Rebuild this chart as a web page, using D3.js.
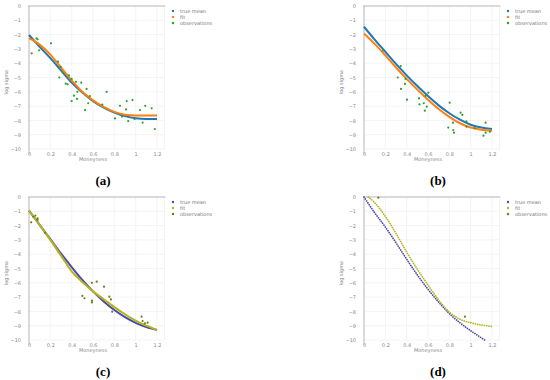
<!DOCTYPE html>
<html>
<head>
<meta charset="utf-8">
<script src="https://cdn.jsdelivr.net/npm/d3@7"></script>
<style>
  body { margin: 0; background: #fff; }
  text { font-family: "DejaVu Sans", sans-serif; }
</style>
</head>
<body>
<svg id="chart" width="550" height="380"></svg>
<script>
var gridX = [0, 0.1, 0.2, 0.3, 0.4, 0.5, 0.6, 0.7, 0.8, 0.9, 1.0, 1.1, 1.2]
var xTicks = [0, 0.2, 0.4, 0.6, 0.8, 1, 1.2]
var yTicks = [0, -1, -2, -3, -4, -5, -6, -7, -8, -9, -10]
var legendLabels = ["true mean", "fit", "observations"]

// panel (a)
var meanA = [-2.03, -2.85, -3.65, -4.5, -5.35, -6.05, -6.65, -7.1, -7.45, -7.7, -7.85, -7.9, -7.9]
var fitA = [-2.25, -2.7, -3.4, -4.3, -5.2, -6.0, -6.6, -7.05, -7.4, -7.6, -7.65, -7.65, -7.65]
var obsA = [[0.025,-3.31],[0.07,-2.27],[0.08,-2.33],[0.095,-3.1],[0.206,-2.61],[0.272,-3.89],[0.297,-4.26],
  [0.284,-5.0],[0.316,-4.65],[0.344,-5.43],[0.375,-4.85],[0.362,-5.48],[0.40,-5.1],[0.40,-6.65],[0.422,-6.27],
  [0.44,-5.3],[0.45,-6.5],[0.49,-5.36],[0.453,-6.0],[0.525,-7.28],[0.54,-5.8],[0.57,-6.3],[0.555,-6.8],
  [0.687,-6.9],[0.728,-6.0],[0.806,-7.86],[0.853,-6.98],[0.872,-7.73],[0.916,-6.65],[0.91,-7.23],[0.93,-8.05],
  [0.97,-6.58],[0.99,-7.9],[1.04,-7.28],[1.065,-8.15],[1.09,-6.98],[1.15,-7.15],[1.18,-8.6]]

// panel (b)
var meanB = [-1.45, -2.35, -3.2, -4.05, -4.85, -5.6, -6.3, -6.95, -7.5, -7.95, -8.3, -8.5, -8.6]
var fitB = [-1.92, -2.65, -3.45, -4.3, -5.1, -5.85, -6.55, -7.2, -7.75, -8.2, -8.5, -8.65, -8.72]
var obsB = [[0.18,-3.12],[0.344,-4.2],[0.316,-5.0],[0.347,-5.8],[0.39,-5.1],[0.403,-6.55],[0.384,-5.45],
  [0.516,-6.46],[0.52,-6.88],[0.56,-6.8],[0.57,-7.32],[0.588,-7.04],[0.578,-6.27],[0.603,-6.06],[0.803,-6.76],
  [0.79,-8.5],[0.834,-8.16],[0.837,-8.67],[0.844,-8.86],[0.906,-7.46],[0.922,-7.62],[0.96,-8.07],[0.962,-8.44],
  [1.04,-8.55],[1.12,-9.07],[1.14,-8.16],[1.14,-8.86],[1.18,-8.79]]

// panel (c)
var meanC = [-0.95, -1.95, -2.95, -3.95, -4.9, -5.8, -6.6, -7.3, -7.9, -8.4, -8.8, -9.1, -9.3]
var fitC = [-0.95, -1.95, -3.0, -4.1, -5.2, -5.95, -6.6, -7.15, -7.7, -8.2, -8.65, -9.0, -9.3]
var obsC = [[0.02,-1.77],[0.04,-1.38],[0.06,-1.3],[0.08,-1.5],[0.08,-1.6],[0.15,-2.5],[0.5,-6.92],[0.52,-7.08],
  [0.59,-7.25],[0.59,-7.37],[0.59,-6.0],[0.635,-5.92],[0.703,-6.27],[0.753,-6.97],[0.768,-7.16],[0.78,-8.02],
  [1.056,-8.37],[1.065,-8.67],[1.087,-8.83],[1.112,-8.79]]

// panel (d)
var meanDX = [0, 0.1, 0.2, 0.3, 0.4, 0.5, 0.6, 0.7, 0.8, 0.9, 1.0, 1.1, 1.13]
var meanD = [0, -1.1, -2.1, -3.2, -4.35, -5.45, -6.45, -7.35, -8.15, -8.8, -9.35, -9.85, -10]
var fitDX = [0.04, 0.1, 0.2, 0.3, 0.4, 0.5, 0.6, 0.7, 0.8, 0.9, 1.0, 1.1, 1.2]
var fitD = [0, -0.4, -1.35, -2.55, -3.85, -5.05, -6.15, -7.2, -8.05, -8.55, -8.8, -8.95, -9.05]
var obsD = [[0.134,-0.05],[0.947,-8.37]]

var colors1 = ["#1f77b4", "#ff7f0e", "#2ca02c"]
var colors2 = ["#4a4aaa", "#b5b31c", "#6b7d24"]

var svg = d3.select("#chart")

function zip(xs, ys) { return xs.map(function(x, i) { return [x, ys[i]] }) }

function drawPanel(ox, oy, label, mean, fit, obs, colors, dotted) {
  var g = svg.append("g").attr("transform", "translate(" + ox + "," + oy + ")")
  var x = d3.scaleLinear().domain([0, 1.2]).range([29, 157])
  var y = d3.scaleLinear().domain([0, -10]).range([6, 149])
  var xEnd = x(1.27)

  // grid
  g.append("g").selectAll("line").data(yTicks).enter().append("line")
    .attr("x1", x(0)).attr("x2", xEnd)
    .attr("y1", function(d) { return y(d) }).attr("y2", function(d) { return y(d) })
    .attr("stroke", "#ececec").attr("stroke-width", 0.6)
  g.append("g").selectAll("line").data(xTicks.concat([1.27])).enter().append("line")
    .attr("x1", function(d) { return x(d) }).attr("x2", function(d) { return x(d) })
    .attr("y1", y(0)).attr("y2", y(-10))
    .attr("stroke", "#ececec").attr("stroke-width", 0.6)

  // axes
  var xAxis = g.append("g").attr("transform", "translate(0," + y(-10) + ")")
    .call(d3.axisBottom(x).tickValues(xTicks).tickSize(0).tickPadding(3)
      .tickFormat(function(d) { return d3.format("~g")(d) }))
  xAxis.select(".domain").remove()
  var yAxis = g.append("g").attr("transform", "translate(" + x(0) + ",0)")
    .call(d3.axisLeft(y).tickValues(yTicks).tickSize(0).tickPadding(8))
  yAxis.select(".domain").remove()
  g.selectAll(".tick text").attr("font-size", 5).attr("fill", "#888")
    .style("font-family", "DejaVu Sans, sans-serif")

  g.append("line").attr("x1", x(0) - 1).attr("x2", xEnd + 1).attr("y1", y(0)).attr("y2", y(0))
    .attr("stroke", "#aaa").attr("stroke-width", 0.8)
  g.append("line").attr("x1", x(0)).attr("x2", x(0)).attr("y1", y(0)).attr("y2", y(-10) + 5)
    .attr("stroke", "#aaa").attr("stroke-width", 0.8)

  g.append("text").attr("x", (x(0) + x(1.2)) / 2).attr("y", 161).attr("text-anchor", "middle")
    .attr("font-size", 5).attr("fill", "#888").text("Moneyness")
  g.append("text").attr("transform", "translate(8,82) rotate(-90)").attr("text-anchor", "middle")
    .attr("font-size", 5).attr("fill", "#888").text("log sigma")

  var line = d3.line().x(function(d) { return x(d[0]) }).y(function(d) { return y(d[1]) })
    .curve(d3.curveMonotoneX)
  ;[mean, fit].forEach(function(s, i) {
    var p = g.append("path").attr("d", line(s)).attr("fill", "none")
      .attr("stroke", colors[i])
    if (dotted) {
      p.attr("stroke-width", 1.7).attr("stroke-dasharray", "0.1,2.2").attr("stroke-linecap", "round")
    } else {
      p.attr("stroke-width", 2)
    }
  })

  g.append("g").selectAll("circle").data(obs).enter().append("circle")
    .attr("cx", function(d) { return x(d[0]) }).attr("cy", function(d) { return y(d[1]) })
    .attr("r", 1.1).attr("fill", colors[2])

  // legend
  var lg = g.append("g").selectAll("g").data(legendLabels).enter().append("g")
    .attr("transform", function(d, i) { return "translate(173," + (11 + i * 6) + ")" })
  lg.append("circle").attr("r", 1.2).attr("fill", function(d, i) { return colors[i] })
  lg.append("text").attr("x", 7).attr("y", 1.8).attr("font-size", 5).attr("fill", "#777")
    .text(function(d) { return d })

  g.append("text").attr("x", 103).attr("y", 184.5).attr("text-anchor", "middle")
    .attr("font-size", 13).attr("font-weight", "bold")
    .style("font-family", "Liberation Serif, serif").text(label)
}

drawPanel(0, 0, "(a)", zip(gridX, meanA), zip(gridX, fitA), obsA, colors1, false)
drawPanel(335, 0, "(b)", zip(gridX, meanB), zip(gridX, fitB), obsB, colors1, false)
drawPanel(0, 191, "(c)", zip(gridX, meanC), zip(gridX, fitC), obsC, colors2, false)
drawPanel(335, 191, "(d)", zip(meanDX, meanD), zip(fitDX, fitD), obsD, colors2, true)
</script>
</body>
</html>
